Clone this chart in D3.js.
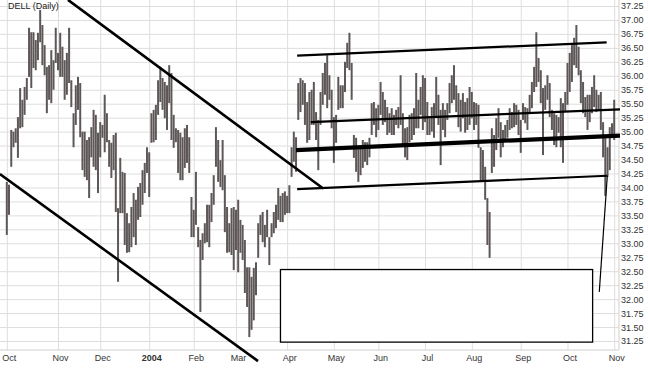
<!DOCTYPE html>
<html><head><meta charset="utf-8">
<script src="https://cdn.jsdelivr.net/npm/d3@7"></script>
<style>body{margin:0;background:#fff}svg{display:block}text{font-family:"Liberation Sans",Arial,sans-serif}</style>
</head><body><svg id="c" width="648" height="369"></svg>
<script>
const highs = [
34.10,34.05,35.03,35.00,35.06,35.26,35.78,35.57,35.80,35.96,
36.86,36.78,36.78,36.64,36.77,37.18,36.91,36.55,36.16,36.19,
36.46,36.28,36.86,36.41,36.77,36.52,36.28,36.41,36.86,35.92,
35.33,35.83,35.98,35.87,35.00,35.00,34.85,34.90,35.08,35.39,
35.30,34.98,35.17,35.12,35.66,35.33,34.85,34.80,34.94,34.98,
33.63,34.53,34.28,34.26,33.54,33.36,33.65,33.90,33.78,34.01,
34.08,34.31,34.44,34.72,34.63,35.33,35.39,35.48,35.92,36.16,
35.96,35.89,35.83,36.19,36.05,35.30,35.06,35.03,34.98,34.90,
35.06,35.12,34.90,33.83,33.60,34.28,33.29,33.06,33.18,33.36,
33.69,33.69,33.90,34.22,35.08,34.85,34.49,34.85,34.22,33.65,
33.36,33.63,33.65,33.60,33.78,33.42,33.33,33.06,32.57,32.57,
32.40,32.56,32.66,33.36,33.51,33.56,33.33,33.60,33.11,33.36,
33.56,33.69,33.99,33.85,33.90,33.93,33.85,34.04,34.72,35.00,
34.90,35.87,35.96,35.92,35.87,35.53,35.71,35.75,35.89,35.35,
35.21,35.71,36.05,36.23,36.37,36.01,35.75,35.26,35.30,35.98,
35.83,35.83,36.25,36.59,36.77,36.23,34.94,34.89,34.71,34.71,
34.85,34.81,34.81,34.89,35.51,35.53,35.42,35.48,35.89,35.71,
35.57,35.44,35.33,35.42,35.30,35.39,35.44,36.01,35.33,35.06,
35.08,35.30,35.33,35.42,36.05,35.57,35.80,36.01,35.96,35.53,
35.24,35.44,35.51,35.98,35.66,35.39,35.51,35.39,35.51,35.87,
36.01,36.19,35.83,35.69,35.57,35.69,35.53,35.60,35.80,35.71,
35.53,35.51,35.48,34.72,34.67,34.37,33.81,33.56,35.06,34.94,
35.24,35.42,35.17,35.03,35.12,35.21,35.42,35.35,35.51,35.48,
35.39,35.21,35.51,35.44,35.42,35.66,35.89,36.16,36.78,36.32,
36.10,35.78,35.83,36.01,35.87,35.39,35.33,35.30,35.26,35.60,
35.51,35.71,36.23,36.41,36.55,36.68,36.91,36.52,36.10,35.89,
35.62,35.66,35.66,35.80,36.01,35.75,35.66,35.71,35.17,34.89,
34.72,35.08,35.15,35.57];
const lows = [
33.15,33.51,34.37,34.72,34.80,34.53,35.06,35.08,35.30,35.57,
35.98,35.78,36.14,36.10,36.28,36.60,36.19,36.01,35.33,35.57,
35.51,35.75,36.23,36.10,35.98,35.98,35.57,35.66,35.87,35.44,
34.72,35.12,35.39,34.90,34.31,34.19,34.13,33.81,34.54,34.37,
34.31,33.90,34.54,34.89,34.63,34.81,34.37,34.17,34.31,33.56,
32.31,33.54,33.54,32.97,32.83,32.84,32.93,33.11,32.97,33.42,
33.47,33.69,33.90,34.26,33.83,34.80,34.81,34.85,35.30,35.53,
35.39,35.24,35.03,35.51,34.85,34.71,34.81,34.26,34.13,34.13,
34.35,34.44,34.26,33.11,33.11,33.33,32.93,31.77,32.70,33.00,
33.02,32.93,33.38,33.69,34.37,34.10,34.01,33.95,33.20,32.83,
32.84,32.79,32.52,32.88,32.48,32.83,32.70,32.11,31.86,31.32,
31.45,31.62,32.07,32.74,33.15,33.02,32.93,33.11,32.61,33.11,
33.18,33.27,33.42,33.38,33.38,33.51,33.54,33.54,34.19,34.46,
34.28,35.21,35.35,35.48,35.12,34.80,34.85,35.12,35.12,34.85,
34.31,35.12,35.48,35.66,35.42,35.57,35.06,34.44,34.80,35.39,
35.42,35.42,35.71,36.14,36.10,35.57,34.53,34.28,34.10,34.22,
34.35,34.46,34.40,34.54,34.94,35.12,34.90,35.03,35.30,35.12,
35.17,34.94,34.98,34.94,34.94,35.12,35.06,35.12,34.76,34.54,
34.49,34.81,34.85,34.94,35.06,35.06,35.30,35.03,35.17,34.94,
34.94,35.00,34.89,35.26,35.12,34.40,35.03,34.90,35.21,35.33,
35.51,35.57,35.35,35.08,35.00,35.24,34.98,35.03,35.12,35.24,
35.03,35.12,34.71,34.13,34.10,33.78,32.97,32.74,34.26,34.37,
34.67,34.89,34.54,34.72,34.85,34.89,35.03,35.06,35.08,35.12,
34.94,34.62,35.21,35.15,35.03,35.33,35.42,35.71,35.80,35.89,
35.51,34.58,35.39,35.57,35.26,35.03,34.76,34.72,34.98,34.72,
34.44,35.35,35.48,35.71,35.89,36.19,36.14,36.01,35.51,35.33,
35.26,35.03,35.17,35.33,35.44,35.35,35.39,35.03,34.54,33.85,
34.19,34.31,34.89,34.85];
const monthLabels = ["Oct","Nov","Dec","2004","Feb","Mar","Apr","May","Jun","Jul","Aug","Sep","Oct","Nov"];
const monthStarts = [0,23,42,64,84,103,126,147,167,188,209,231,252,273];
const priceTicks = d3.range(31.25, 37.26, 0.25);
// trend lines: [dayIndex, price] endpoints
const downUpper = [[27.5,37.36],[142.2,33.98]];
const downLower = [[-3.1,34.24],[112.9,30.89]];
const chanUpper = [[130.5,36.36],[269.6,36.60]];
const chanMiddle = [[136.6,35.17],[275.6,35.40]];
const chanCenter = [[130.0,34.67],[275.6,34.93]];
const chanLower = [[130.5,33.97],[269.9,34.21]];
const dropLine = [[269.9,34.21],[266.3,32.13]];
const blankBox = [[123.0,32.53],[263.3,31.23]];

const svg = d3.select("#c");
const W = 619, H = 350;
const x = d3.scaleLinear().domain([0, 273]).range([6.8, 614.2]);
const y = d3.scaleLinear().domain([31.25, 37.25]).range([341, 6]);

svg.append("rect").attr("width",648).attr("height",369).attr("fill","#fff");

const gy = svg.append("g").attr("transform",`translate(${W},0)`)
  .call(d3.axisRight(y).tickValues(priceTicks).tickSize(-W).tickPadding(3).tickFormat(d3.format(".2f")));
gy.select(".domain").remove();
gy.selectAll("line").attr("stroke","#dedede");
gy.selectAll("text").attr("font-size",9).attr("fill","#333").attr("dy","0.33em").attr("x",2);

const gx = svg.append("g").attr("transform",`translate(0,${H})`)
  .call(d3.axisBottom(x).tickValues(monthStarts).tickSize(-H).tickPadding(5).tickFormat((d,i)=>monthLabels[i]));
gx.select(".domain").remove();
gx.selectAll("line").attr("stroke","#dedede");
gx.selectAll("text").attr("font-size",9).attr("fill","#333").attr("x",2)
  .attr("font-weight",(d,i)=>monthLabels[i]==="2004"?"bold":"normal");

svg.append("line").attr("x1",W).attr("x2",W).attr("y1",0).attr("y2",H).attr("stroke","#d0d0d0");
svg.append("line").attr("x1",0).attr("x2",W).attr("y1",H).attr("y2",H).attr("stroke","#d0d0d0");

svg.append("text").attr("x",8).attr("y",9).attr("font-size",9).attr("fill","#222").text("DELL (Daily)");

svg.append("g").selectAll("line").data(highs).join("line")
  .attr("x1",(d,i)=>x(i)).attr("x2",(d,i)=>x(i))
  .attr("y1",d=>y(d)).attr("y2",(d,i)=>y(lows[i]))
  .attr("stroke","#5e5757").attr("stroke-width",2);

svg.append("rect")
  .attr("x",x(blankBox[0][0])).attr("y",y(blankBox[0][1]))
  .attr("width",x(blankBox[1][0])-x(blankBox[0][0]))
  .attr("height",y(blankBox[1][1])-y(blankBox[0][1]))
  .attr("fill","#fff").attr("stroke","#000").attr("stroke-width",1.3);

const lines = [
  [downUpper,2.6],[downLower,2.6],[chanUpper,2.2],[chanMiddle,2.2],
  [chanCenter,4.2],[chanLower,2.2],[dropLine,1.2]
];
lines.forEach(([pts,w])=>{
  svg.append("line")
    .attr("x1",x(pts[0][0])).attr("y1",y(pts[0][1]))
    .attr("x2",x(pts[1][0])).attr("y2",y(pts[1][1]))
    .attr("stroke","#000").attr("stroke-width",w);
});
</script></body></html>
